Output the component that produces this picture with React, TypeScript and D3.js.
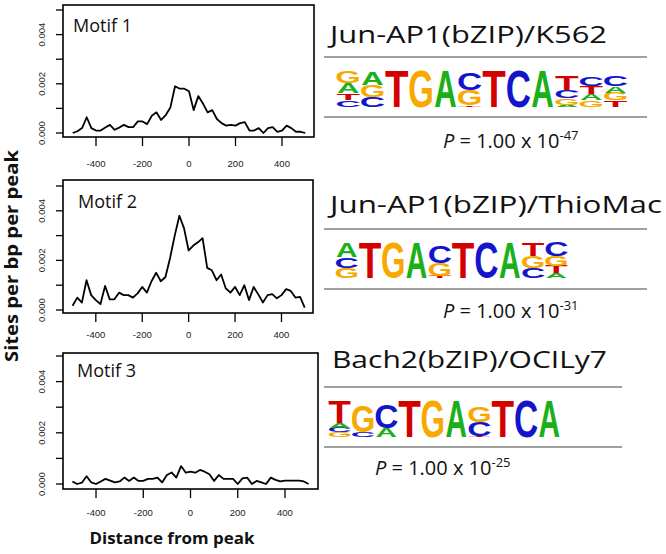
import React from "react";
import * as d3 from "d3";

// ---------- data ----------
const distances = [
  -500, -480, -460, -440, -420, -400, -380, -360, -340, -320, -300, -280, -260,
  -240, -220, -200, -180, -160, -140, -120, -100, -80, -60, -40, -20, 0, 20, 40,
  60, 80, 100, 120, 140, 160, 180, 200, 220, 240, 260, 280, 300, 320, 340, 360,
  380, 400, 420, 440, 460, 480, 500,
];

const motif1Sites = [
  0.0, 0.00007, 0.0002, 0.00064, 0.0002, 0.0001, 0.0001, 0.00022, 0.00033,
  0.00013, 0.00022, 0.00033, 0.00024, 0.00024, 0.00047, 0.00047, 0.00036, 0.0007,
  0.00084, 0.00053, 0.00073, 0.00104, 0.0019, 0.0018, 0.0018, 0.0017, 0.00093,
  0.0015, 0.0012, 0.00084, 0.00093, 0.00057, 0.0004, 0.0003, 0.00033, 0.0003,
  0.0004, 0.00044, 0.0001, 0.0001, 0.0002, 0.0, 0.0002, 0.00024, 0.00005, 0.0001,
  0.0003, 0.0002, 0.00005, 0.00005, 0.0,
];

const motif2Sites = [
  0.00017, 0.0005, 0.0003, 0.0012, 0.0006, 0.0004, 0.00024, 0.00097, 0.00043,
  0.00043, 0.0007, 0.0006, 0.0006, 0.0005, 0.00067, 0.00093, 0.0007, 0.00116,
  0.0015, 0.00116, 0.00133, 0.0021, 0.003, 0.0038, 0.0033, 0.0024, 0.0026,
  0.00273, 0.0029, 0.0017, 0.0016, 0.0012, 0.00143, 0.00087, 0.0007, 0.00093,
  0.0006, 0.001, 0.0004, 0.00093, 0.00063, 0.0003, 0.0006, 0.00064, 0.00047,
  0.0006, 0.00084, 0.00077, 0.0005, 0.00053, 0.0001,
];

const motif3Sites = [
  0.0001, 0.0, 0.00005, 0.0003, 0.00006, 0.0, 0.0001, 0.0002, 0.00013, 0.00006,
  0.0001, 0.00025, 0.00012, 0.00025, 0.00012, 0.00012, 0.0002, 0.0002, 0.00025,
  0.00006, 0.00035, 0.00045, 0.00025, 0.0007, 0.00044, 0.00048, 0.00044, 0.00055,
  0.00048, 0.00038, 0.00012, 0.00035, 0.0002, 0.0002, 0.0002, 0.0, 0.00022,
  0.00025, 0.0, 0.00012, 0.00006, 0.0, 0.00025, 0.00016, 0.0001, 0.00013, 0.00013,
  0.00013, 0.00013, 0.0001, 0.0,
];

const motifLabels = ["Motif 1", "Motif 2", "Motif 3"];
const xTicks = [-400, -200, 0, 200, 400];
const yTicks = [0, 0.001, 0.002, 0.003, 0.004, 0.005];
const yTickLabels = ["0.000", "", "0.002", "", "0.004", ""];
const xAxisTitle = "Distance from peak";
const yAxisTitle = "Sites per bp per peak";

const motifNames = ["Jun-AP1(bZIP)/K562", "Jun-AP1(bZIP)/ThioMac", "Bach2(bZIP)/OCILy7"];
const pMantissa = ["1.00", "1.00", "1.00"];
const pExponents = ["-47", "-31", "-25"];

// sequence logos: each column lists [base, fraction of full height] from bottom to top
type Col = [string, number][];
const logo1: Col[] = [
  [["C", 0.18], ["T", 0.18], ["A", 0.26], ["G", 0.32]],
  [["C", 0.26], ["G", 0.31], ["A", 0.34]],
  [["T", 0.96]],
  [["G", 0.96]],
  [["A", 0.96]],
  [["T", 0.04], ["G", 0.4], ["C", 0.44]],
  [["T", 0.96]],
  [["C", 0.96]],
  [["A", 0.96]],
  [["A", 0.06], ["G", 0.18], ["C", 0.2], ["T", 0.36]],
  [["G", 0.18], ["A", 0.16], ["T", 0.2], ["C", 0.24]],
  [["T", 0.17], ["G", 0.2], ["A", 0.18], ["C", 0.28]],
];
const logo2: Col[] = [
  [["G", 0.27], ["C", 0.3], ["A", 0.38]],
  [["T", 0.97]],
  [["G", 0.97]],
  [["A", 0.97]],
  [["T", 0.05], ["G", 0.36], ["C", 0.47]],
  [["T", 0.97]],
  [["C", 0.97]],
  [["A", 0.97]],
  [["C", 0.27], ["G", 0.33], ["T", 0.36]],
  [["A", 0.13], ["T", 0.2], ["G", 0.27], ["C", 0.4]],
];
const logo3: Col[] = [
  [["G", 0.12], ["C", 0.12], ["A", 0.12], ["T", 0.56]],
  [["C", 0.14], ["G", 0.68]],
  [["A", 0.24], ["C", 0.6]],
  [["T", 0.95]],
  [["G", 0.95]],
  [["A", 0.95]],
  [["T", 0.03], ["C", 0.36], ["G", 0.42]],
  [["T", 0.95]],
  [["C", 0.94]],
  [["A", 0.95]],
];

const baseColor: Record<string, string> = {
  A: "#19b019",
  C: "#1414cc",
  G: "#f7a900",
  T: "#d40000",
};
// ink width (em) and cap height of a bold sans letter
const inkW: Record<string, number> = { A: 0.72, C: 0.64, G: 0.68, T: 0.58 };
const CAP = 0.716;

// ---------- layout ----------
const panels = [
  { data: motif1Sites, box: [63, 5, 314, 137], xr: [72.75, 305.25], yr: [133, 10], label: [73, 32], tickY: 167 },
  { data: motif2Sites, box: [63, 180, 313, 313], xr: [72.6, 304.7], yr: [310, 186], label: [78, 208], tickY: 338 },
  { data: motif3Sites, box: [63, 353, 318, 489], xr: [72.4, 308.6], yr: [484, 356], label: [77, 377], tickY: 516 },
];

const logos = [
  { cols: logo1, x0: 336, colW: 24.3, bottom: 107, h: 39, title: [330, 43, 277], lines: [57, 117, 324, 647], p: [443, 148] },
  { cols: logo2, x0: 335, colW: 23.3, bottom: 278, h: 37, title: [330, 213, 332], lines: [229, 289, 324, 647], p: [443, 318] },
  { cols: logo3, x0: 328, colW: 23.3, bottom: 437, h: 39, title: [332, 368, 275], lines: [387, 447, 324, 622], p: [375, 475] },
];

const SANS = "'Open Sans', 'DejaVu Sans', sans-serif";
const AXISF = "'Liberation Sans', Arial, sans-serif";

function Panel({ p, i }: { p: (typeof panels)[number]; i: number }) {
  const [bx0, by0, bx1, by1] = p.box;
  const x = d3.scaleLinear().domain([-500, 500]).range(p.xr);
  const y = d3.scaleLinear().domain([0, 0.005]).range(p.yr);
  const line = d3
    .line<[number, number]>()
    .x((d) => x(d[0]))
    .y((d) => y(d[1]));
  const pts = distances.map((d, k) => [d, p.data[k]] as [number, number]);
  return (
    <g>
      <rect x={bx0} y={by0} width={bx1 - bx0} height={by1 - by0} fill="none" stroke="#000" strokeWidth={1.6} />
      <path d={line(pts) || ""} fill="none" stroke="#000" strokeWidth={1.8} strokeLinejoin="round" />
      {yTicks.map((t, k) => (
        <g key={k}>
          <line x1={bx0 - 7} x2={bx0} y1={y(t)} y2={y(t)} stroke="#000" strokeWidth={1.3} />
          {yTickLabels[k] && (
            <text
              transform={`translate(45,${y(t)}) rotate(-90)`}
              textAnchor="middle"
              fontFamily={AXISF}
              fontSize={9.5}
              fill="#222"
            >
              {yTickLabels[k]}
            </text>
          )}
        </g>
      ))}
      {xTicks.map((t) => (
        <g key={t}>
          <line x1={x(t)} x2={x(t)} y1={by1} y2={by1 + 9} stroke="#000" strokeWidth={1.3} />
          <text x={x(t)} y={p.tickY} textAnchor="middle" fontFamily={AXISF} fontSize={9.5} fill="#222">
            {t}
          </text>
        </g>
      ))}
      <text x={p.label[0]} y={p.label[1]} fontFamily={SANS} fontSize={18} fill="#111">
        {motifLabels[i]}
      </text>
    </g>
  );
}

function Logo({ L, i }: { L: (typeof logos)[number]; i: number }) {
  const [ly0, ly1, lx0, lx1] = L.lines;
  const hScale = d3.scaleLinear().domain([0, 1]).range([0, L.h]);
  const FS = 10;
  const letters: React.ReactNode[] = [];
  L.cols.forEach((col, c) => {
    let yb = L.bottom;
    const cx = L.x0 + (c + 0.5) * L.colW;
    col.forEach(([b, f], k) => {
      const hh = hScale(f);
      const sx = (L.colW * 0.92) / (inkW[b] * FS);
      const sy = hh / (CAP * FS);
      letters.push(
        <text
          key={`${c}-${k}`}
          transform={`translate(${cx},${yb}) scale(${sx},${sy})`}
          textAnchor="middle"
          fontFamily="'Liberation Sans', Arial, sans-serif"
          fontWeight="bold"
          fontSize={FS}
          fill={baseColor[b]}
        >
          {b}
        </text>
      );
      yb -= hh;
    });
  });
  return (
    <g>
      <text
        x={L.title[0]}
        y={L.title[1]}
        fontFamily={SANS}
        fontSize={24}
        fill="#111"
        textLength={L.title[2]}
        lengthAdjust="spacingAndGlyphs"
      >
        {motifNames[i]}
      </text>
      <line x1={lx0} x2={lx1} y1={ly0} y2={ly0} stroke="#808080" strokeWidth={1.6} />
      <line x1={lx0} x2={lx1} y1={ly1} y2={ly1} stroke="#808080" strokeWidth={1.6} />
      {letters}
      <text x={L.p[0]} y={L.p[1]} fontFamily={SANS} fontSize={20} fill="#111">
        <tspan fontStyle="italic">P</tspan>
        <tspan>{` = ${pMantissa[i]} x 10`}</tspan>
        <tspan fontSize={13} dy={-8}>
          {pExponents[i]}
        </tspan>
      </text>
    </g>
  );
}

export default function App() {
  return (
    <svg width={666} height={554} style={{ position: "absolute", left: 0, top: 0, background: "#fff" }}>
      <rect width={666} height={554} fill="#fff" />
      {panels.map((p, i) => (
        <Panel key={i} p={p} i={i} />
      ))}
      <text
        transform="translate(18,256) rotate(-90)"
        textAnchor="middle"
        fontFamily={SANS}
        fontWeight="bold"
        fontSize={18}
        fill="#111"
        textLength={212}
        lengthAdjust="spacingAndGlyphs"
      >
        {yAxisTitle}
      </text>
      <text
        x={172}
        y={544}
        textAnchor="middle"
        fontFamily={SANS}
        fontWeight="bold"
        fontSize={16}
        fill="#111"
        textLength={165}
        lengthAdjust="spacingAndGlyphs"
      >
        {xAxisTitle}
      </text>
      {logos.map((L, i) => (
        <Logo key={i} L={L} i={i} />
      ))}
    </svg>
  );
}
